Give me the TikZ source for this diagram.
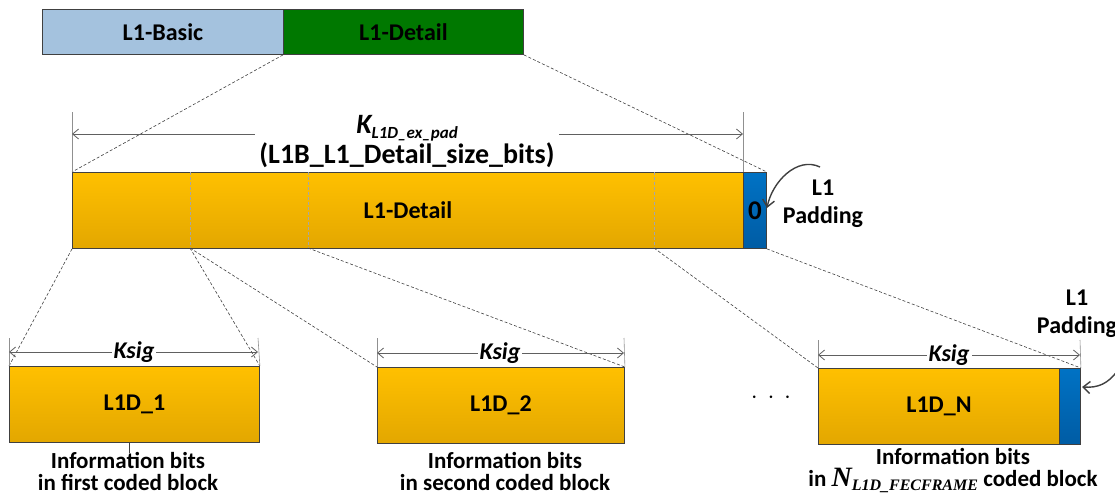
\documentclass[tikz,border=0pt]{standalone}
\usepackage{fontspec}
\setmainfont{Carlito}
\newfontfamily\tnrfont{Liberation Serif}
\usetikzlibrary{arrows.meta}
\definecolor{lblue}{HTML}{A4C2DE}
\definecolor{dgreen}{HTML}{007800}
\definecolor{orT}{HTML}{FFC000}
\definecolor{orB}{HTML}{E3A700}
\definecolor{blT}{HTML}{0072C4}
\definecolor{blB}{HTML}{005CA4}
\definecolor{edgec}{HTML}{404040}
\definecolor{dimc}{HTML}{606060}
\begin{document}
\begin{tikzpicture}[x=1pt,y=-1pt,
  every node/.style={inner sep=0pt, text=black},
  blk/.style={draw=edgec, line width=0.9pt, anchor=north west, font=\bfseries\fontsize{24}{28}\selectfont},
  orbox/.style={blk, top color=orT, bottom color=orB},
  blbox/.style={blk, top color=blT, bottom color=blB},
  conn/.style={draw=edgec, line width=0.6pt, dash pattern=on 3pt off 2pt},
  divline/.style={draw=black!35, line width=0.7pt, dash pattern=on 3pt off 2pt},
  dim/.style={draw=dimc, line width=0.8pt, {Straight Barb[length=6pt,width=10pt]}-{Straight Barb[length=6pt,width=10pt]}},
  extl/.style={draw=dimc!70, line width=0.6pt},
  lab/.style={font=\bfseries\fontsize{24}{28}\selectfont, align=center},
  info/.style={font=\bfseries\fontsize{23}{22}\selectfont, align=center},
  ksig/.style={fill=white, inner xsep=2pt, inner ysep=1pt, font=\bfseries\itshape\fontsize{24}{28}\selectfont},
  curvarrow/.style={draw=black!75, line width=1.4pt, -{Straight Barb[length=7pt,width=12pt]}}
]
\useasboundingbox (0,0) rectangle (1115,495);

% top row
\node[blk, fill=lblue, minimum width=241pt, minimum height=45pt] (basic) at (42,9) {L1-Basic};
\node[blk, fill=dgreen, minimum width=240pt, minimum height=45pt] (topdet) at (283,9) {L1-Detail};

% middle bar
\node[orbox, minimum width=671pt, minimum height=76pt] (big) at (72,172) {L1-Detail};
\node[blbox, minimum width=23pt, minimum height=76pt, font=\bfseries\fontsize{27}{28}\selectfont] (pad) at (743,172) {0};

\coordinate (d1t) at (190,172); \coordinate (d1b) at (190,248);
\coordinate (d2t) at (308,172); \coordinate (d2b) at (308,248);
\coordinate (d3t) at (654,172); \coordinate (d3b) at (654,248);
\draw[divline] (d1t) -- (d1b);
\draw[divline] (d2t) -- (d2b);
\draw[divline] (d3t) -- (d3b);

% bottom blocks
\node[orbox, minimum width=250pt, minimum height=76pt] (b1) at (9,366) {L1D\_1};
\node[orbox, minimum width=247pt, minimum height=76pt] (b2) at (377,367) {L1D\_2};
\node[orbox, minimum width=241pt, minimum height=76pt] (bn) at (818,368) {L1D\_N};
\node[blbox, minimum width=21pt, minimum height=76pt] (bnp) at (1059,368) {};

% dashed connectors
\draw[conn] (topdet.south west) -- (big.north west);
\draw[conn] (topdet.south east) -- (pad.north east);
\draw[conn] (big.south west) -- (b1.north west);
\draw[conn] (d1b) -- (b1.north east);
\draw[conn] (d1b) -- (b2.north west);
\draw[conn] (d2b) -- (b2.north east);
\draw[conn] (d3b) -- (bn.north west);
\draw[conn] (pad.south east) -- (bnp.north east);

% top dimension
\coordinate (ka) at (72,134); \coordinate (kb) at (743,134);
\coordinate (kae) at (72,112); \coordinate (kbe) at (743,112);
\draw[extl] (kae) -- (big.north west);
\draw[extl] (kbe) -- (pad.north west);
\draw[dim] (ka) -- (kb);
\node[fill=white, align=center, inner xsep=4pt, inner ysep=1pt, font=\bfseries\fontsize{28}{30}\selectfont] (klab) at (407,142)
  {\itshape K{\raisebox{-5pt}{\fontsize{17}{17}\selectfont L1D\_ex\_pad}}\\(L1B\_L1\_Detail\_size\_bits)};

% Ksig dimensions
\coordinate (s1a) at (9,352); \coordinate (s1b) at (258,352);
\coordinate (s1ae) at (9,338); \coordinate (s1be) at (258,338);
\draw[extl] (s1ae) -- (b1.north west);
\draw[extl] (s1be) -- (b1.north east);
\draw[dim] (s1a) -- (s1b);
\node[ksig] (ks1) at (134,352) {Ksig};

\coordinate (s2a) at (377,353); \coordinate (s2b) at (624,353);
\coordinate (s2ae) at (377,338); \coordinate (s2be) at (624,338);
\draw[extl] (s2ae) -- (b2.north west);
\draw[extl] (s2be) -- (b2.north east);
\draw[dim] (s2a) -- (s2b);
\node[ksig] (ks2) at (500,353) {Ksig};

\coordinate (s3a) at (818,355); \coordinate (s3b) at (1080,355);
\coordinate (s3ae) at (818,340); \coordinate (s3be) at (1080,340);
\draw[extl] (s3ae) -- (bn.north west);
\draw[extl] (s3be) -- (bnp.north east);
\draw[dim] (s3a) -- (s3b);
\node[ksig] (ks3) at (949,355) {Ksig};

% padding labels and curved arrows
\node[lab] (padlab) at (823,204) {L1\\Padding};
\coordinate (c1a) at (820,167); \coordinate (c1b) at (767,208);
\draw[curvarrow] (c1a) .. controls (797,156) and (772,182) .. (c1b);

\node[lab] (padlab2) at (1077,314) {L1\\Padding};
\coordinate (c2a) at (1118,370); \coordinate (c2b) at (1082,387);
\draw[curvarrow] (c2a) .. controls (1108,384) and (1098,388) .. (c2b);

% dots
\node[lab] (dots) at (771,398) {$\cdot\,\cdot\,\cdot$};

% tick under first block
\coordinate (t1a) at (129,442); \coordinate (t1b) at (129,453);
\draw[draw=edgec, line width=0.8pt] (t1a) -- (t1b);

% info labels
\node[info] (inf1) at (128,471) {Information bits\\in first coded block};
\node[info] (inf2) at (505,471) {Information bits\\in second coded block};
\node[info] (inf3) at (953,471) {Information bits\\in {\tnrfont\itshape\fontsize{28}{22}\selectfont N{\raisebox{-4pt}{\fontsize{16}{16}\selectfont L1D\_FECFRAME}}} coded block};
\end{tikzpicture}
\end{document}
